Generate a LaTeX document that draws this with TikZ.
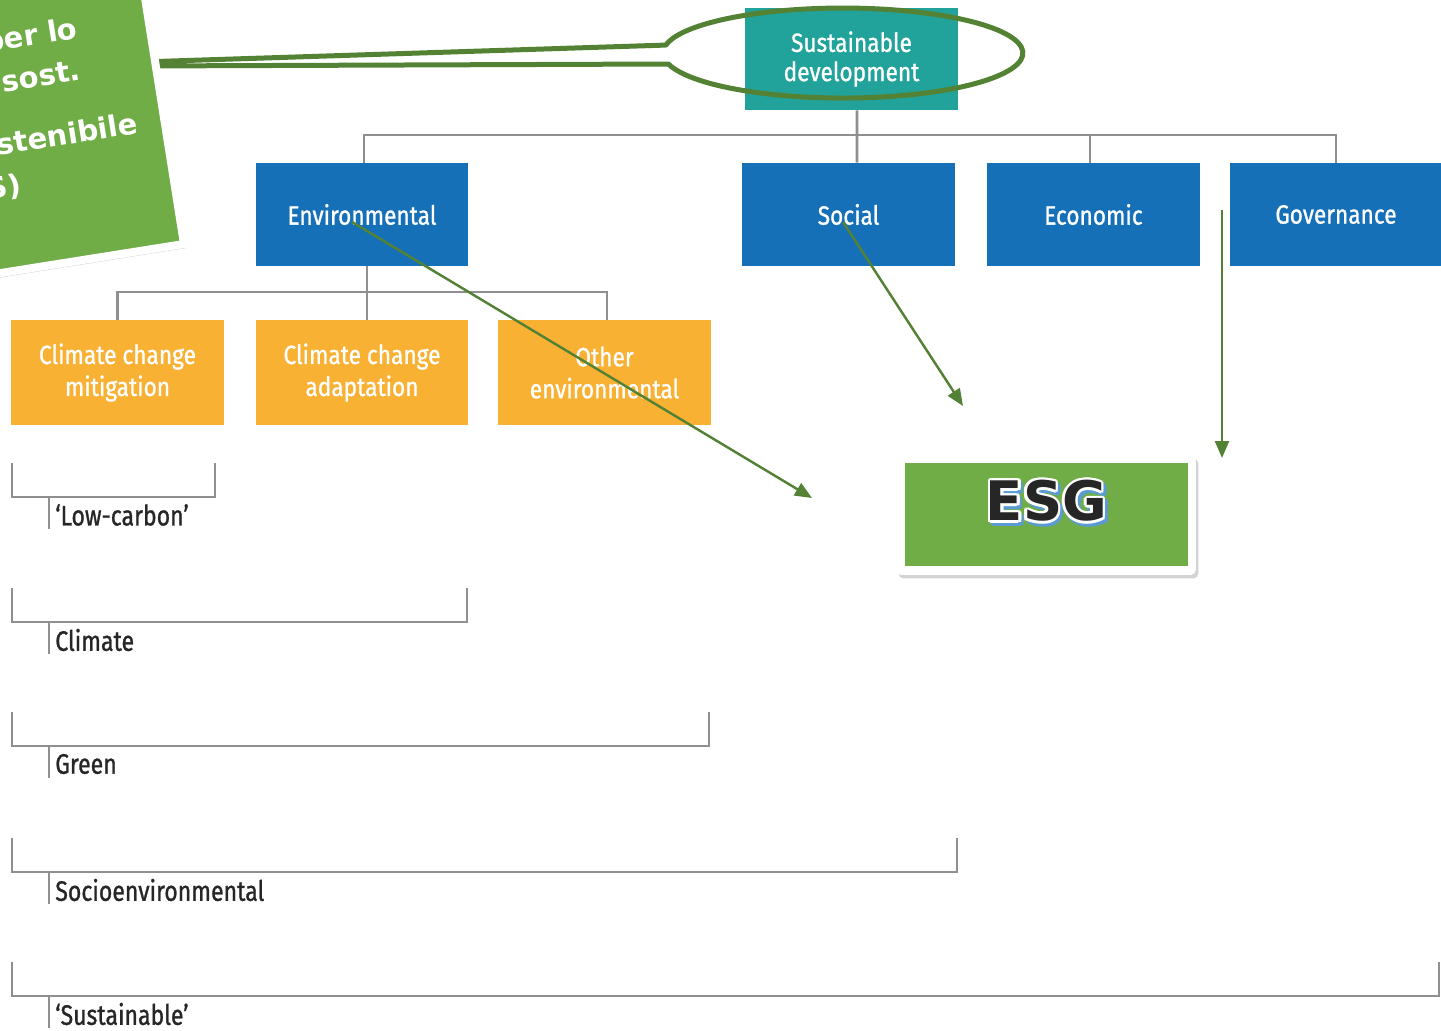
\documentclass[tikz,border=0pt]{standalone}
\usepackage{fontspec}
\setmainfont{Fira Sans}
\newfontfamily\narrowfont[FakeStretch=0.86,FakeBold=1]{Fira Sans}
\newfontfamily\labelfont[FakeStretch=0.82,FakeBold=1]{Fira Sans}
\newfontfamily\callfont{DejaVu Sans}
\usetikzlibrary{arrows.meta,shadows}

\definecolor{sdteal}{HTML}{21A39B}
\definecolor{pillarblue}{HTML}{1570B8}
\definecolor{topicorange}{HTML}{F8B133}
\definecolor{esggreen}{HTML}{70AD47}
\definecolor{esgdark}{HTML}{548235}
\definecolor{linegray}{HTML}{8F8F8F}
\definecolor{esgblue}{HTML}{5B9BD5}

\tikzset{
  pillar/.style={fill=pillarblue,minimum width=4.26cm,minimum height=2.06cm,inner sep=0pt,
    text=white,font=\narrowfont\fontsize{15}{17}\selectfont},
  topic/.style={fill=topicorange,minimum width=4.26cm,minimum height=2.1cm,inner sep=0pt,
    align=center,text=white,font=\narrowfont\fontsize{15}{18.2}\selectfont},
  treeline/.style={draw=linegray,line width=1.6pt},
  pointer/.style={draw=esgdark,line width=1.4pt,-{Triangle[length=0.34cm,width=0.28cm]}},
  scopelabel/.style={anchor=west,inner sep=0pt,text=black!85,font=\labelfont\fontsize{16}{18}\selectfont},
  calltext/.style={anchor=base east,inner sep=0pt,rotate=9,text=white,
    font=\callfont\bfseries\fontsize{16.5}{20}\selectfont},
  esgtext/.style={inner sep=0pt,font=\callfont\bfseries\fontsize{31}{31}\selectfont}
}

\begin{document}
\begin{tikzpicture}[x=0.02cm,y=-0.02cm]
    \useasboundingbox (0,0) rectangle (1441,1031);
    \clip (0,0) rectangle (1441,1031);

    \node [fill=sdteal,minimum width=4.26cm,minimum height=2.04cm,inner sep=0pt,align=center,
        text=white,font=\narrowfont\fontsize{15}{16.6}\selectfont] (sd) at (851.5,59) {Sustainable\\development};

    \node [pillar] (env) at (362,214.5) {Environmental};
    \node [pillar] (soc) at (848.5,214.5) {Social};
    \node [pillar] (eco) at (1093.5,214.5) {Economic};
    \node [pillar] (gov) at (1336,214.5) {Governance};

    \node [topic] (miti) at (117.5,372.5) {Climate change\\mitigation};
    \node [topic] (adapt) at (362,372.5) {Climate change\\adaptation};
    \node [topic] (other) at (604.5,372.5) {Other\\environmental};

    \coordinate (hub) at (857,135);
    \coordinate (fork) at (367,292);

    \draw [treeline] ([xshift=0.11cm]sd.south) -- ([xshift=0.17cm]soc.north);
    \draw [treeline] ([xshift=0.04cm]env.north) |- (hub) -| (gov.north);
    \draw [treeline] ([xshift=-0.07cm]eco.north) -- ++(0,-28);
    \draw [treeline] ([xshift=0.1cm]env.south) -- ([xshift=0.1cm]adapt.north);
    \draw [treeline] (miti.north) |- (fork) -| ([xshift=0.05cm]other.north);

    \foreach \ytop/\xright/\lbl [count=\i] in {463/215/{‘Low-carbon’},588/467/Climate,712/709/Green,
        838/957/Socioenvironmental,962/1439/{‘Sustainable’}} {
        \draw [treeline] (12,\ytop) -- (12,\ytop+34) -- (\xright,\ytop+34) -- (\xright,\ytop);
        \draw [treeline] (49,\ytop+34) -- (49,\ytop+66);
        \node [scopelabel] (lbl\i) at (55,\ytop+52) {\lbl};
    }

    \draw [esgdark,line width=0.1cm,line join=round] (668.4,64)
        arc[start angle=194.1,end angle=529.8,x radius=3.6cm,y radius=0.9cm]
        -- (140,62) -- (140,66) -- cycle;

    \begin{scope}[shift={(184,244)},rotate=9]
        \fill [esggreen,draw=white,line width=0.16cm,
            drop shadow={shadow xshift=0.06cm,shadow yshift=-0.08cm,opacity=0.35}] (-700,-500) rectangle (0,0);
    \end{scope}
    \node [calltext] (callA) at (79,38) {per lo};
    \node [calltext] (callB) at (82,80) {sost.};
    \node [calltext] (callC) at (139,133) {stenibile};
    \node [calltext] (callD) at (23,194) {S)};

    \coordinate (envend) at (812,498);
    \coordinate (socend) at (963,406);
    \coordinate (govstart) at (1222,210);
    \coordinate (govend) at (1222,458);

    \draw [pointer] ([shift={(-10,7.5)}]env.center) -- (envend);
    \draw [pointer] ([shift={(-5.5,7.5)}]soc.center) -- (socend);
    \draw [pointer] (govstart) -- (govend);

    \node [fill=white,minimum width=6cm,minimum height=2.4cm,rounded corners=3pt,
        drop shadow={shadow xshift=0.05cm,shadow yshift=-0.07cm,opacity=0.35}] (esg) at (1046,515) {};
    \node [fill=esggreen,minimum width=5.66cm,minimum height=2.06cm,inner sep=0pt] (esgfill) at (1046.5,514.5) {};
    \foreach \a in {0,30,...,330} {
        \node [esgtext,text=esgblue] (esgb\a) at ([shift={(\a:2.5)},xshift=0.05cm,yshift=-0.06cm]esgfill.center) [yshift=0.27cm] {ESG};
    }
    \foreach \a in {0,30,...,330} {
        \node [esgtext,text=white] (esgw\a) at ([shift={(\a:2.5)}]esgfill.center) [yshift=0.27cm] {ESG};
    }
    \node [esgtext,text=black!85] (esgt) at (esgfill.center) [yshift=0.27cm] {ESG};

\end{tikzpicture}
\end{document}
